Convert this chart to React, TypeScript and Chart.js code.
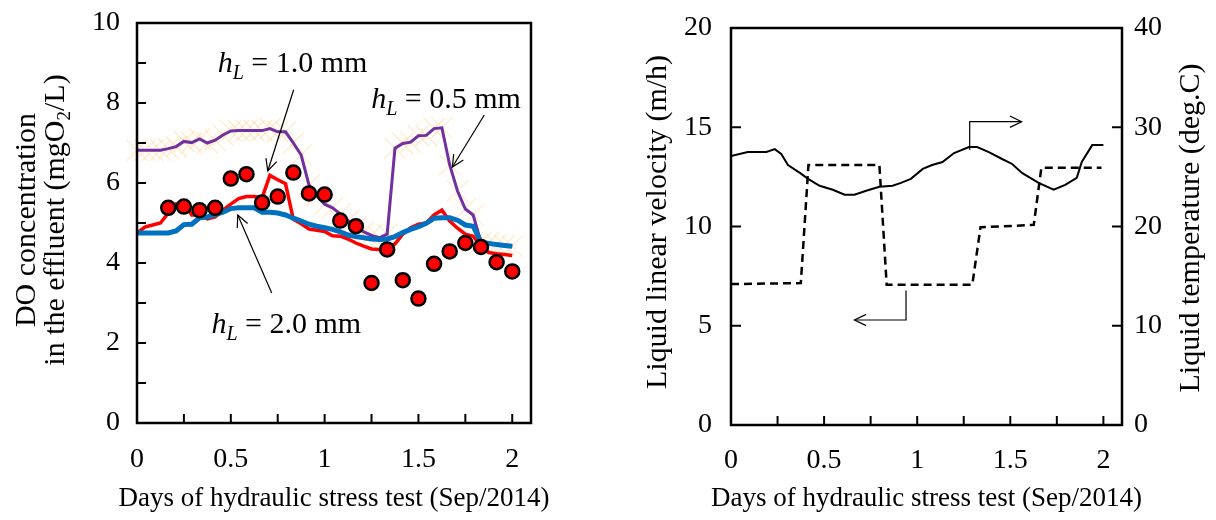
import React, { useEffect, useRef } from 'react';
import { Chart, registerables } from 'chart.js';

Chart.register(...registerables);

const SERIF = "'Liberation Serif', 'Times New Roman', Times, serif";

// ---------- Left panel data (DO in effluent) ----------
const HOURS = [0, 1, 2, 3, 4, 5, 6, 7, 8, 9, 10, 11, 12, 13, 14, 15, 16, 17, 18, 19, 20, 21, 22, 23, 24,
  25, 26, 27, 28, 29, 30, 31, 32, 33, 34, 35, 36, 37, 38, 39, 40, 41, 42, 43, 44, 45, 46, 47, 48];
const DO_HL05 = [6.82, 6.82, 6.82, 6.82, 6.86, 6.91, 7.04, 7.01, 7.10, 7.00, 7.07, 7.20, 7.30, 7.31, 7.31, 7.31,
  7.31, 7.36, 7.28, 7.28, 7.00, 6.70, 5.95, 5.68, 5.47, 5.38, 5.23, 5.06, 4.90, 4.78, 4.69, 4.63, 4.72, 6.87,
  6.99, 7.02, 7.18, 7.19, 7.36, 7.38, 6.45, 5.80, 5.35, 5.20, 4.52, 4.50, 4.47, 4.44, 4.42];
const DO_HL10 = [4.75, 4.90, 4.95, 5.00, 5.25, 5.48, 5.52, 5.20, 5.20, 5.10, 5.15, 5.32, 5.47, 5.61, 5.66, 5.66,
  5.63, 6.19, 6.08, 5.98, 5.09, 4.98, 4.85, 4.82, 4.79, 4.68, 4.67, 4.60, 4.50, 4.42, 4.35, 4.34, 4.36, 4.48,
  4.72, 4.88, 4.97, 5.00, 5.20, 5.32, 5.05, 4.87, 4.72, 4.67, 4.42, 4.26, 4.23, 4.21, 4.19];
const DO_HL20 = [4.75, 4.75, 4.75, 4.75, 4.75, 4.80, 4.96, 4.97, 5.13, 5.15, 5.21, 5.27, 5.36, 5.38, 5.38, 5.38,
  5.27, 5.27, 5.25, 5.20, 5.12, 5.05, 4.97, 4.92, 4.88, 4.84, 4.78, 4.70, 4.66, 4.63, 4.60, 4.59, 4.60, 4.66,
  4.76, 4.84, 4.91, 4.99, 5.12, 5.13, 5.13, 5.07, 4.95, 4.92, 4.52, 4.49, 4.46, 4.44, 4.42];
const OBS_HOURS = [4, 6, 8, 10, 12, 14, 16, 18, 20, 22, 24, 26, 28, 30, 32, 34, 36, 38, 40, 42, 44, 46, 48];
const DO_OBS = [5.38, 5.41, 5.32, 5.38, 6.11, 6.22, 5.51, 5.66, 6.26, 5.74, 5.71, 5.06, 4.92, 3.50, 4.34, 3.57,
  3.11, 3.98, 4.29, 4.50, 4.40, 4.02, 3.79];

// ---------- Right panel data ----------
const TEMP_DAYS = [0, 0.09, 0.19, 0.235, 0.27, 0.306, 0.37, 0.414, 0.476, 0.547, 0.61, 0.663, 0.726, 0.797, 0.868,
  0.913, 0.966, 1.03, 1.08, 1.136, 1.198, 1.278, 1.322, 1.385, 1.456, 1.51, 1.563, 1.652, 1.733, 1.795, 1.857,
  1.884, 1.94, 2.0];
const TEMP_C = [27.1, 27.5, 27.5, 27.8, 27.3, 26.2, 25.4, 24.8, 24.1, 23.7, 23.2, 23.2, 23.6, 24.0, 24.1, 24.4,
  24.8, 25.8, 26.2, 26.5, 27.4, 28.0, 28.0, 27.5, 26.8, 26.3, 25.4, 24.4, 23.7, 24.2, 24.9, 26.5, 28.2, 28.2];
const VEL_DAYS = [0, 0.375, 0.416, 0.797, 0.836, 1.296, 1.34, 1.626, 1.667, 1.99];
const VEL_MH = [7.1, 7.15, 13.1, 13.1, 7.07, 7.07, 9.96, 10.08, 12.96, 12.96];

// ---------- Axes ----------
const X_MAX = 2.1;
const X_TICKS = [0, 0.25, 0.5, 0.75, 1, 1.25, 1.5, 1.75, 2];
const X_LABELS = [0, 0.5, 1, 1.5, 2];
const DO_TICKS = [0, 1, 2, 3, 4, 5, 6, 7, 8, 9, 10];
const DO_LABELS = [0, 2, 4, 6, 8, 10];
const VEL_TICKS = [0, 5, 10, 15, 20];
const TEMP_TICKS = [0, 10, 20, 30, 40];
const X_TITLE = 'Days of hydraulic stress test (Sep/2014)';

// annotation anchors in data units
const LEFT_NOTES = [
  { value: '1.0 mm', x: 0.43, y: 8.78, arrow: [[0.835, 8.33], [0.697, 6.3]] },
  { value: '0.5 mm', x: 1.248, y: 7.87, arrow: [[1.851, 7.7], [1.681, 6.4]] },
  { value: '2.0 mm', x: 0.397, y: 2.24, arrow: [[0.718, 3.25], [0.537, 5.2]] },
];
const RIGHT_ARROWS = [
  [[1.282, 13.85], [1.282, 15.28], [1.561, 15.28]],
  [[0.94, 6.77], [0.94, 5.29], [0.663, 5.29]],
];

type Part = { t: string; size: number; italic?: boolean; dy?: number };
const fontOf = (p: Part) => `${p.italic ? 'italic ' : ''}${p.size}px ${SERIF}`;
const TICK_SIZE = 28;

function drawRich(ctx: CanvasRenderingContext2D, parts: Part[], x: number, y: number, align: 'left' | 'center') {
  let w = 0;
  parts.forEach((p) => { ctx.font = fontOf(p); w += ctx.measureText(p.t).width; });
  let cx = align === 'center' ? x - w / 2 : x;
  ctx.textAlign = 'left';
  parts.forEach((p) => {
    ctx.font = fontOf(p);
    ctx.fillText(p.t, cx, y + (p.dy || 0));
    cx += ctx.measureText(p.t).width;
  });
}

function vText(ctx: CanvasRenderingContext2D, parts: Part[], bx: number, cy: number) {
  ctx.save();
  ctx.translate(bx, cy);
  ctx.rotate(-Math.PI / 2);
  ctx.textBaseline = 'alphabetic';
  drawRich(ctx, parts, 0, 0, 'center');
  ctx.restore();
}

function seg(ctx: CanvasRenderingContext2D, x1: number, y1: number, x2: number, y2: number) {
  ctx.beginPath();
  ctx.moveTo(x1, y1);
  ctx.lineTo(x2, y2);
  ctx.stroke();
}

function arrowPath(ctx: CanvasRenderingContext2D, pts: number[][]) {
  ctx.beginPath();
  ctx.moveTo(pts[0][0], pts[0][1]);
  for (let i = 1; i < pts.length; i++) ctx.lineTo(pts[i][0], pts[i][1]);
  ctx.stroke();
  const [x2, y2] = pts[pts.length - 1];
  const [x1, y1] = pts[pts.length - 2];
  const ang = Math.atan2(y2 - y1, x2 - x1);
  const L = 13;
  const s = 0.45;
  ctx.beginPath();
  ctx.moveTo(x2 - L * Math.cos(ang - s), y2 - L * Math.sin(ang - s));
  ctx.lineTo(x2, y2);
  ctx.lineTo(x2 - L * Math.cos(ang + s), y2 - L * Math.sin(ang + s));
  ctx.stroke();
}

function frame(ctx: CanvasRenderingContext2D, a: any) {
  ctx.strokeStyle = '#000';
  ctx.lineWidth = 2.5;
  ctx.strokeRect(a.left, a.top, a.right - a.left, a.bottom - a.top);
}

function xAxisMarks(ctx: CanvasRenderingContext2D, a: any, x: any, labelOffset: number) {
  ctx.lineWidth = 2;
  X_TICKS.forEach((v) => { const px = x.getPixelForValue(v); seg(ctx, px, a.bottom, px, a.bottom - 9); });
  ctx.font = `${TICK_SIZE}px ${SERIF}`;
  ctx.textAlign = 'center';
  ctx.textBaseline = 'middle';
  X_LABELS.forEach((v) => ctx.fillText(String(v), x.getPixelForValue(v), a.bottom + labelOffset));
}

function hiddenScale(extra: any) {
  return {
    type: 'linear',
    grid: { display: false, drawTicks: false },
    border: { display: false },
    ticks: { display: false },
    ...extra,
  };
}

const leftDecor = {
  id: 'leftDecor',
  afterDraw(chart: any) {
    const { ctx, chartArea: a, scales } = chart;
    const { x, y } = scales;
    ctx.save();
    frame(ctx, a);
    ctx.fillStyle = '#000';
    xAxisMarks(ctx, a, x, 37);
    ctx.lineWidth = 2;
    DO_TICKS.forEach((v) => { const py = y.getPixelForValue(v); seg(ctx, a.left, py, a.left + 9, py); });
    ctx.font = `${TICK_SIZE}px ${SERIF}`;
    ctx.textAlign = 'right';
    ctx.textBaseline = 'middle';
    DO_LABELS.forEach((v) => ctx.fillText(String(v), a.left - 17, y.getPixelForValue(v)));

    ctx.textAlign = 'center';
    ctx.font = `27px ${SERIF}`;
    ctx.fillText(X_TITLE, (a.left + a.right) / 2, a.bottom + 76);
    const cy = (a.top + a.bottom) / 2 - 3;
    vText(ctx, [{ t: 'DO concentration', size: 30 }], 35, cy);
    vText(ctx, [
      { t: 'in the effluent (mgO', size: 30 },
      { t: '2', size: 19, dy: 6 },
      { t: '/L)', size: 30 },
    ], 64, cy);
    ctx.textBaseline = 'alphabetic';
    LEFT_NOTES.forEach((n) => {
      const tx = x.getPixelForValue(n.x);
      const ty = y.getPixelForValue(n.y);
      drawRich(ctx, [
        { t: 'h', size: 30, italic: true },
        { t: 'L', size: 20, italic: true, dy: 7 },
        { t: ' = ' + n.value, size: 30 },
      ], tx, ty, 'left');
      ctx.strokeStyle = '#000';
      ctx.lineWidth = 1.2;
      arrowPath(ctx, n.arrow.map((p) => [x.getPixelForValue(p[0]), y.getPixelForValue(p[1])]));
    });
    ctx.restore();
  },
};

const rightDecor = {
  id: 'rightDecor',
  afterDraw(chart: any) {
    const { ctx, chartArea: a, scales } = chart;
    const { x, y, y1 } = scales;
    ctx.save();
    frame(ctx, a);
    ctx.fillStyle = '#000';
    xAxisMarks(ctx, a, x, 36);
    ctx.lineWidth = 2;
    VEL_TICKS.forEach((v) => { const py = y.getPixelForValue(v); seg(ctx, a.left, py, a.left + 10, py); });
    TEMP_TICKS.forEach((v) => { const py = y1.getPixelForValue(v); seg(ctx, a.right, py, a.right - 10, py); });
    ctx.font = `${TICK_SIZE}px ${SERIF}`;
    ctx.textBaseline = 'middle';
    ctx.textAlign = 'right';
    VEL_TICKS.forEach((v) => ctx.fillText(String(v), a.left - 19, y.getPixelForValue(v)));
    ctx.textAlign = 'left';
    TEMP_TICKS.forEach((v) => ctx.fillText(String(v), a.right + 12, y1.getPixelForValue(v)));

    ctx.textAlign = 'center';
    ctx.font = `27px ${SERIF}`;
    ctx.fillText(X_TITLE, (a.left + a.right) / 2, a.bottom + 74);
    vText(ctx, [{ t: 'Liquid linear velocity (m/h)', size: 30 }], 58, 222);
    vText(ctx, [{ t: 'Liquid temperature (deg.C)', size: 30 }], 591, 228);
    ctx.strokeStyle = '#000';
    ctx.lineWidth = 1.2;
    RIGHT_ARROWS.forEach((arr) => {
      arrowPath(ctx, arr.map((p) => [x.getPixelForValue(p[0]), y.getPixelForValue(p[1])]));
    });
    ctx.restore();
  },
};

function leftConfig(): any {
  const hourly = (vals: number[]) => HOURS.map((h, i) => ({ x: h / 24, y: vals[i] }));
  return {
    type: 'line',
    data: {
      datasets: [
        {
          label: 'hatch',
          data: hourly(DO_HL05),
          showLine: false,
          pointStyle: 'crossRot',
          pointRadius: 15,
          pointBorderWidth: 1.2,
          pointBorderColor: 'rgba(255, 200, 110, 0.38)',
          borderColor: 'rgba(255, 200, 110, 0.38)',
          clip: false,
          order: 10,
        },
        {
          label: 'hL 0.5',
          data: hourly(DO_HL05),
          borderColor: '#7030A0',
          borderWidth: 3,
          pointRadius: 0,
          order: 5,
        },
        {
          label: 'hL 1.0',
          data: hourly(DO_HL10),
          borderColor: '#FF0000',
          borderWidth: 3.5,
          pointRadius: 0,
          order: 4,
        },
        {
          label: 'hL 2.0',
          data: hourly(DO_HL20),
          borderColor: '#0070C0',
          borderWidth: 5,
          pointRadius: 0,
          order: 3,
        },
        {
          label: 'observed',
          data: OBS_HOURS.map((h, i) => ({ x: h / 24, y: DO_OBS[i] })),
          showLine: false,
          pointRadius: 7,
          pointBorderWidth: 2.5,
          pointBackgroundColor: '#FF0000',
          pointBorderColor: '#000',
          backgroundColor: '#FF0000',
          borderColor: '#000',
          clip: false,
          order: 1,
        },
      ],
    },
    options: {
      responsive: false,
      animation: false,
      events: [],
      layout: { padding: { top: 23, right: 77, left: 0, bottom: 0 } },
      plugins: { legend: { display: false }, tooltip: { enabled: false } },
      scales: {
        x: hiddenScale({ min: 0, max: X_MAX, afterFit: (s: any) => { s.height = 97; } }),
        y: hiddenScale({ min: 0, max: 10, afterFit: (s: any) => { s.width = 137; } }),
      },
    },
    plugins: [leftDecor],
  };
}

function rightConfig(): any {
  return {
    type: 'line',
    data: {
      datasets: [
        {
          label: 'Liquid temperature',
          yAxisID: 'y1',
          data: TEMP_DAYS.map((d, i) => ({ x: d, y: TEMP_C[i] })),
          borderColor: '#000',
          borderWidth: 2,
          pointRadius: 0,
        },
        {
          label: 'Liquid linear velocity',
          yAxisID: 'y',
          data: VEL_DAYS.map((d, i) => ({ x: d, y: VEL_MH[i] })),
          borderColor: '#000',
          borderWidth: 2.5,
          borderDash: [8, 5],
          pointRadius: 0,
        },
      ],
    },
    options: {
      responsive: false,
      animation: false,
      events: [],
      layout: { padding: { top: 28, right: 0, left: 0, bottom: 0 } },
      plugins: { legend: { display: false }, tooltip: { enabled: false } },
      scales: {
        x: hiddenScale({ min: 0, max: X_MAX, afterFit: (s: any) => { s.height = 95; } }),
        y: hiddenScale({ position: 'left', min: 0, max: 20, afterFit: (s: any) => { s.width = 123; } }),
        y1: hiddenScale({ position: 'right', min: 0, max: 40, afterFit: (s: any) => { s.width = 94; } }),
      },
    },
    plugins: [rightDecor],
  };
}

export default function App() {
  const leftRef = useRef<HTMLCanvasElement>(null);
  const rightRef = useRef<HTMLCanvasElement>(null);

  useEffect(() => {
    const c1 = new Chart(leftRef.current as HTMLCanvasElement, leftConfig());
    const c2 = new Chart(rightRef.current as HTMLCanvasElement, rightConfig());
    return () => {
      c1.destroy();
      c2.destroy();
    };
  }, []);

  return (
    <div style={{ position: 'absolute', left: 0, top: 0, width: 1216, height: 520, background: '#fff' }}>
      <canvas ref={leftRef} width={608} height={520}
        style={{ position: 'absolute', left: 0, top: 0, width: 608, height: 520 }} />
      <canvas ref={rightRef} width={608} height={520}
        style={{ position: 'absolute', left: 608, top: 0, width: 608, height: 520 }} />
    </div>
  );
}
